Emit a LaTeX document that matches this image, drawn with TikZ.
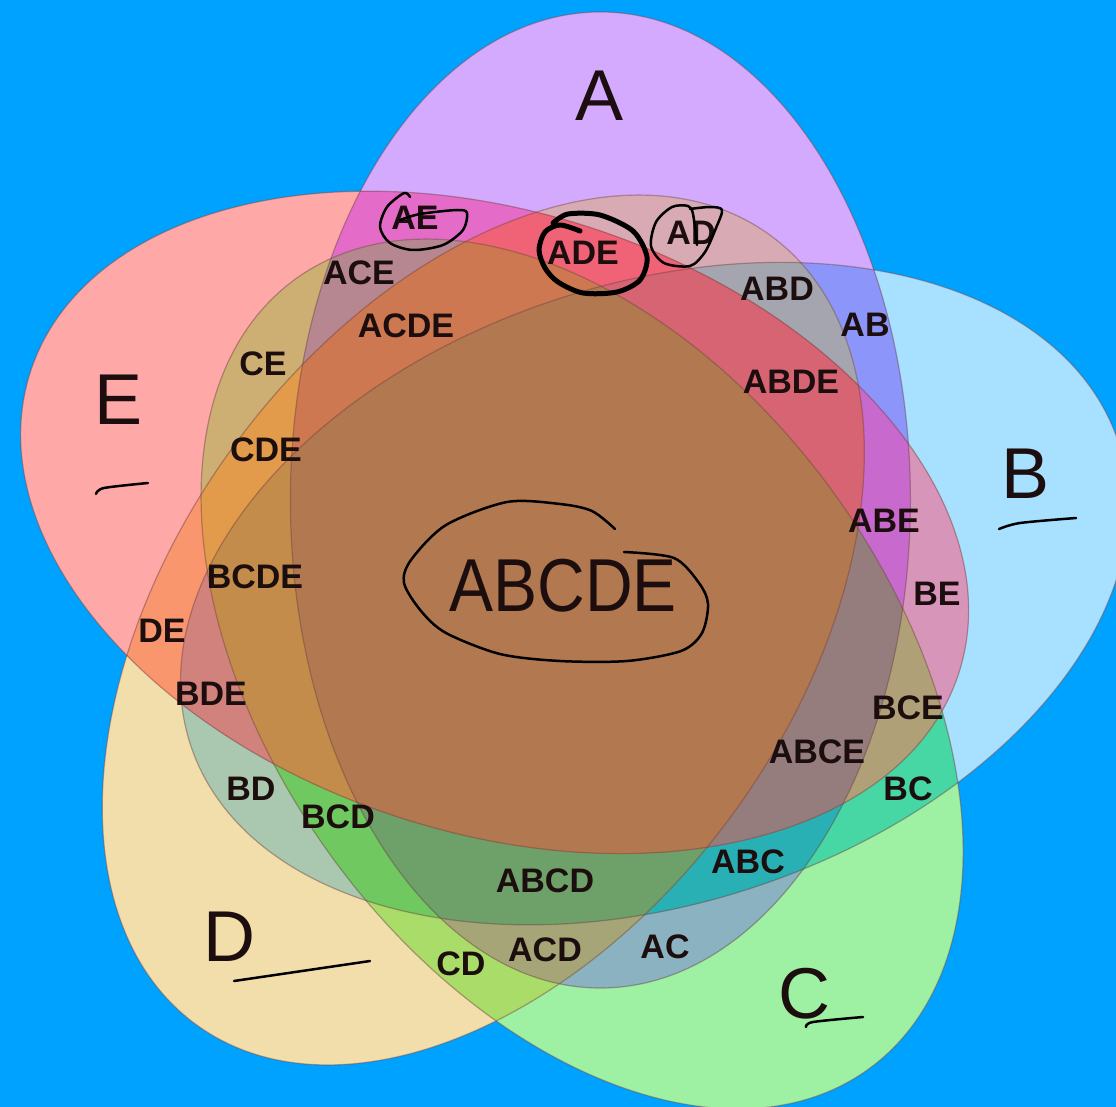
\documentclass[tikz,border=0pt]{standalone}
\usepackage{fontspec}
\setmainfont{Liberation Sans}

% background and region colours
\definecolor{bg}{RGB}{0,162,255}
\definecolor{rim}{RGB}{110,65,65}
\definecolor{ink}{RGB}{28,14,14}
\definecolor{rA}{RGB}{212,170,255}
\definecolor{rB}{RGB}{168,224,255}
\definecolor{rC}{RGB}{158,240,163}
\definecolor{rD}{RGB}{242,222,170}
\definecolor{rE}{RGB}{255,168,168}
\definecolor{rAB}{RGB}{140,150,250}
\definecolor{rAC}{RGB}{138,178,192}
\definecolor{rAD}{RGB}{215,170,180}
\definecolor{rAE}{RGB}{228,108,200}
\definecolor{rBC}{RGB}{70,215,165}
\definecolor{rBD}{RGB}{170,200,175}
\definecolor{rBE}{RGB}{215,150,185}
\definecolor{rCD}{RGB}{170,220,105}
\definecolor{rCE}{RGB}{205,175,115}
\definecolor{rDE}{RGB}{250,150,110}
\definecolor{rABC}{RGB}{40,176,180}
\definecolor{rABD}{RGB}{165,165,175}
\definecolor{rABE}{RGB}{200,105,205}
\definecolor{rACD}{RGB}{165,165,120}
\definecolor{rACE}{RGB}{182,135,145}
\definecolor{rADE}{RGB}{240,98,118}
\definecolor{rBCD}{RGB}{112,200,96}
\definecolor{rBCE}{RGB}{176,160,120}
\definecolor{rBDE}{RGB}{210,130,125}
\definecolor{rCDE}{RGB}{225,155,75}
\definecolor{rABCD}{RGB}{110,160,105}
\definecolor{rABCE}{RGB}{150,125,125}
\definecolor{rABDE}{RGB}{215,100,115}
\definecolor{rACDE}{RGB}{205,120,80}
\definecolor{rBCDE}{RGB}{195,140,75}
\definecolor{rABCDE}{RGB}{178,120,80}

% long axis of each set
\newcommand{\angA}{90}
\newcommand{\angB}{18}
\newcommand{\angC}{-54}
\newcommand{\angD}{-126}
\newcommand{\angE}{162}

\begin{document}
\begin{tikzpicture}[x=1pt,y=1pt,
    edge/.style={draw=rim,opacity=.45,line width=1.2pt},
    hand/.style={line width=2.5pt,line cap=round,line join=round},
    every node/.style={text=ink,font=\bfseries\fontsize{34}{34}\selectfont},
    setname/.style={font=\fontsize{72}{72}\selectfont}]

  \useasboundingbox (0,0) rectangle (1116,-1107);
  \fill[bg] (0,0) rectangle (1116,-1107);

  % ellipse centres, 72 degrees apart round the middle
  \coordinate (cA) at (600.4,-500.0);
  \coordinate (cB) at (654.5,-593.6);
  \coordinate (cC) at (582.1,-674.0);
  \coordinate (cD) at (483.3,-630.0);
  \coordinate (cE) at (494.6,-522.4);

  % paint the regions, smaller intersections first
  \foreach \reg/\sets in {A/A,B/B,C/C,D/D,E/E,
      AB/{A,B},AC/{A,C},AD/{A,D},AE/{A,E},BC/{B,C},
      BD/{B,D},BE/{B,E},CD/{C,D},CE/{C,E},DE/{D,E},
      ABC/{A,B,C},ABD/{A,B,D},ABE/{A,B,E},ACD/{A,C,D},ACE/{A,C,E},
      ADE/{A,D,E},BCD/{B,C,D},BCE/{B,C,E},BDE/{B,D,E},CDE/{C,D,E},
      ABCD/{A,B,C,D},ABCE/{A,B,C,E},ABDE/{A,B,D,E},
      ACDE/{A,C,D,E},BCDE/{B,C,D,E},ABCDE/{A,B,C,D,E}}{
    \begin{scope}
      \foreach \s in \sets
        \clip[rotate=\csname ang\s\endcsname] (c\s) ellipse [x radius=488,y radius=310];
      \fill[fill=r\reg] (0,0) rectangle (1116,-1107);
    \end{scope}
  }

  \foreach \s in {A,B,C,D,E}
    \draw[edge,rotate=\csname ang\s\endcsname] (c\s) ellipse [x radius=488,y radius=310];

  % set names
  \node[setname] (nA) at (600,-96) {A};
  \node[setname] (nB) at (1025,-474) {B};
  \node[setname] (nC) at (804,-994) {C};
  \node[setname] (nD) at (229,-937) {D};
  \node[setname] (nE) at (119,-400) {E};
  \node[font=\fontsize{75}{75}\selectfont,xscale=.88] (nABCDE) at (563,-586) {ABCDE};

  % region labels
  \node (nAE) at (415,-218) {AE};
  \node (nADE) at (583,-253) {ADE};
  \node (nAD) at (691,-233) {AD};
  \node (nACE) at (359,-273) {ACE};
  \node (nABD) at (777,-289) {ABD};
  \node (nAB) at (865,-325) {AB};
  \node (nACDE) at (406,-326) {ACDE};
  \node (nCE) at (263,-364) {CE};
  \node (nABDE) at (791,-382) {ABDE};
  \node (nCDE) at (266,-450) {CDE};
  \node (nABE) at (884,-521) {ABE};
  \node (nBCDE) at (255,-577) {BCDE};
  \node (nBE) at (937,-594) {BE};
  \node (nDE) at (162,-631) {DE};
  \node (nBDE) at (211,-694) {BDE};
  \node (nBCE) at (908,-708) {BCE};
  \node (nABCE) at (817,-752) {ABCE};
  \node (nBD) at (251,-789) {BD};
  \node (nBC) at (908,-789) {BC};
  \node (nBCD) at (338,-817) {BCD};
  \node (nABC) at (748,-862) {ABC};
  \node (nABCD) at (545,-881) {ABCD};
  \node (nAC) at (665,-947) {AC};
  \node (nACD) at (545,-950) {ACD};
  \node (nCD) at (461,-964) {CD};

  % pen marks
  \draw[hand] plot[smooth] coordinates {(615,-529) (592,-511) (560,-504) (507,-502)
    (446,-525) (411,-560) (404,-583) (421,-611) (446,-633) (500,-654) (560,-661)
    (627,-661) (681,-651) (702,-633) (708,-604) (699,-583) (674,-558) (624,-552)};
  \draw[hand,line width=5pt] plot[smooth] coordinates {(580,-231) (560,-225) (545,-232)
    (539,-250) (545,-268) (558,-282) (583,-293) (617,-292) (640,-280) (647,-257)
    (633,-231) (600,-215) (568,-214) (553,-223)};
  \draw[hand] plot[smooth] coordinates {(697,-245) (693,-214) (688,-206) (672,-207)
    (656,-222) (651,-246) (664,-263) (690,-266) (705,-252) (716,-228) (722,-210)
    (710,-207) (690,-209)};
  \draw[hand] plot[smooth] coordinates {(410,-197) (404,-193) (387,-207) (380,-227)
    (390,-243) (413,-250) (443,-245) (463,-230) (467,-213) (457,-210) (420,-214)
    (400,-220)};
  \draw[hand] plot[smooth] coordinates {(96,-494) (104,-488) (148,-483)};
  \draw[hand] plot[smooth] coordinates {(999,-529) (1020,-523) (1076,-518)};
  \draw[hand] (234,-981) -- (370,-961);
  \draw[hand] plot[smooth] coordinates {(806,-1027) (813,-1022) (863,-1017)};
\end{tikzpicture}
\end{document}
